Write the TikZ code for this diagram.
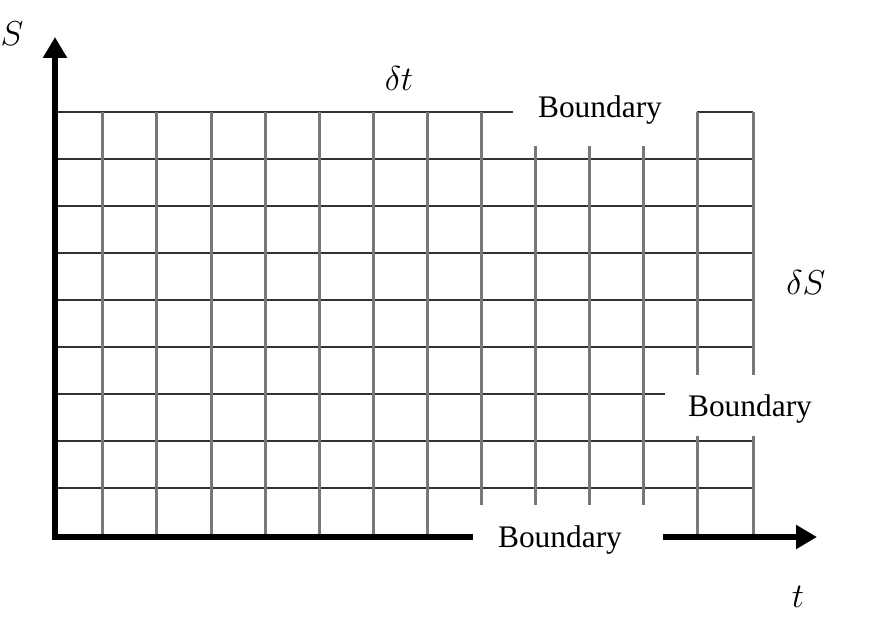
\documentclass[tikz,border=0pt]{standalone}
\usepackage{fontspec}
\setmainfont{Liberation Serif}
\usepackage{xcolor}
\definecolor{gridv}{RGB}{120,120,120}
\definecolor{gridh}{RGB}{50,50,50}
\usetikzlibrary{arrows.meta}

\begin{document}
\begin{tikzpicture}[x=0.5pt, y=-0.5pt,
  vline/.style={gridv, line width=1.5pt},
  hline/.style={gridh, line width=1.1pt},
  axisline/.style={black, line width=2.6pt},
  bnd/.style={font=\fontsize{15.7}{18}\selectfont, anchor=base, inner sep=0pt},
  mathlbl/.style={font=\fontsize{18}{20}\selectfont, anchor=base, inner sep=0pt}]

\useasboundingbox (0,0) rectangle (879,630);

% --- Horizontal grid lines ---
\draw[hline] (53,112) -- (513,112);
\draw[hline] (697,112) -- (753,112);
\foreach \y in {159,206,253,300,347,441,488}
  \draw[hline] (53,\y) -- (753,\y);
\draw[hline] (53,394) -- (665,394);

% --- Vertical grid lines ---
\foreach \x in {102,156,211,265,319,373,427}
  \draw[vline] (\x,112) -- (\x,537);
\draw[vline] (481,112) -- (481,505);
\foreach \x in {535,589,643}
  \draw[vline] (\x,146) -- (\x,505);
\foreach \x in {697,753} {
  \draw[vline] (\x,112) -- (\x,375);
  \draw[vline] (\x,436) -- (\x,537);
}

% --- Axes ---
\draw[axisline, line join=miter, -{Triangle[length=10.5pt, width=11.5pt]}]
  (473,537) -- (55,537) -- (55,37);
\draw[axisline, -{Triangle[length=10.5pt, width=11.5pt]}] (663,537) -- (817,537);

% --- Labels ---
\node[mathlbl] (slbl) at (12,46) {$S$};
\node[mathlbl] (dt) at (399,91) {$\delta t$};
\node[bnd] (bndtop) at (600,118) {Boundary};
\node[mathlbl] (ds) at (806,295) {$\delta S$};
\node[bnd] (bndright) at (750,417) {Boundary};
\node[bnd] (bndbottom) at (560,548) {Boundary};
\node[mathlbl] (tlbl) at (798,608) {$t$};

\end{tikzpicture}
\end{document}
